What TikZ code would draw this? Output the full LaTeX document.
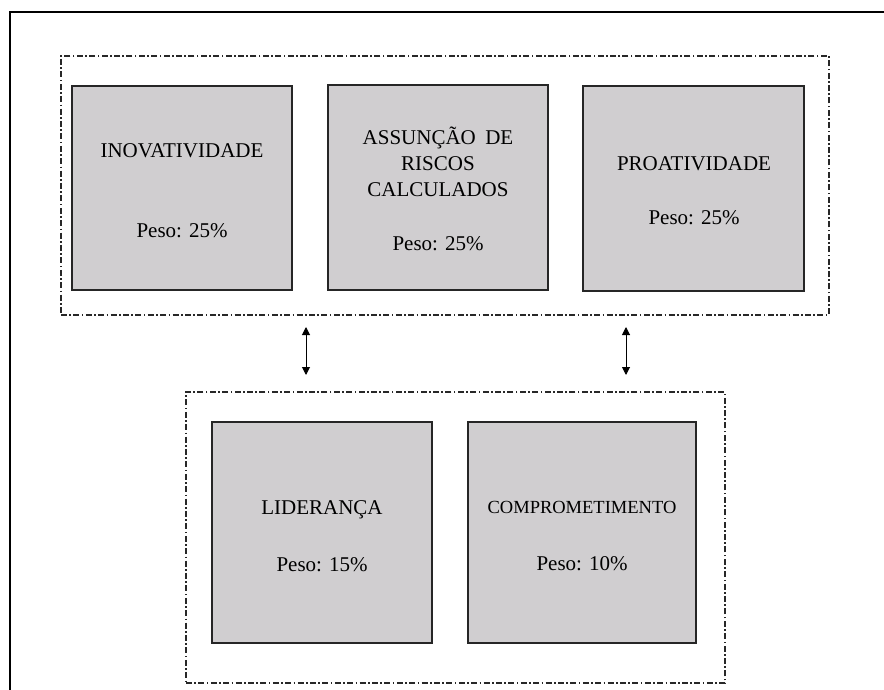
\documentclass[tikz,border=0pt]{standalone}
\usepackage{fontspec}
\setmainfont{Liberation Serif}
\usetikzlibrary{arrows.meta}
\definecolor{boxgray}{RGB}{208,206,208}
\definecolor{dashgray}{RGB}{40,40,40}
\begin{document}
\begin{tikzpicture}[x=1pt,y=-1pt,
  frame/.style={line width=2pt, draw=black},
  grp/.style={draw=dashgray, line width=1.2pt, dash pattern=on 6pt off 2.4pt on 1.6pt off 2.4pt, inner sep=0pt, fill=none},
  dimbox/.style={draw=black!85, line width=1.2pt, fill=boxgray, inner sep=0pt},
  lbl/.style={inner sep=0pt, text height=14pt, text depth=0pt, font=\fontsize{21}{25}\selectfont},
  lblsmall/.style={inner sep=0pt, text height=12.5pt, text depth=0pt, font=\fontsize{18.5}{22}\selectfont},
  link/.style={line width=1pt, {Triangle[width=8pt,length=8pt]}-{Triangle[width=8pt,length=8pt]}}
]
\useasboundingbox (0,0) rectangle (884,690);
% outer frame (cut by the page edges)
\draw[frame] (9.5,700) -- (9.5,12.5) -- (900,12.5);

% groups
\node[grp, minimum width=768pt, minimum height=259pt] (topgrp) at (445,185.5) {};
\node[grp, minimum width=539pt, minimum height=291pt] (botgrp) at (455.5,537.5) {};

% boxes
\node[dimbox, minimum width=220pt, minimum height=204pt] (inov) at (182,188) {};
\node[dimbox, minimum width=220pt, minimum height=205pt] (risk) at (438,187.5) {};
\node[dimbox, minimum width=221pt, minimum height=205pt] (proa) at (693.5,188.5) {};
\node[dimbox, minimum width=220pt, minimum height=221pt] (lid) at (322,532.5) {};
\node[dimbox, minimum width=228pt, minimum height=221pt] (comp) at (582,532.5) {};

% labels
\node[lbl] (inovt) at (182,151) {INOVATIVIDADE};
\node[lbl] (inovp) at (182,230) {Peso: 25\%};
\node[lbl] (risk1) at (438,138) {ASSUNÇÃO\hspace{0.45em}DE};
\node[lbl] (risk2) at (438,164) {RISCOS};
\node[lbl] (risk3) at (438,189.5) {CALCULADOS};
\node[lbl] (riskp) at (438,244) {Peso: 25\%};
\node[lbl] (proat) at (694,164) {PROATIVIDADE};
\node[lbl] (proap) at (694,217) {Peso: 25\%};
\node[lbl] (lidt) at (322,507.5) {LIDERANÇA};
\node[lbl] (lidp) at (322,564) {Peso: 15\%};
\node[lblsmall] (compt) at (582,507) {COMPROMETIMENTO};
\node[lbl] (compp) at (582,563) {Peso: 10\%};

% connectors between the groups
\coordinate (a1) at (306,327);
\coordinate (a2) at (306,375);
\coordinate (b1) at (626,327);
\coordinate (b2) at (626,375);
\draw[link] (a1) -- (a2);
\draw[link] (b1) -- (b2);
\end{tikzpicture}
\end{document}
